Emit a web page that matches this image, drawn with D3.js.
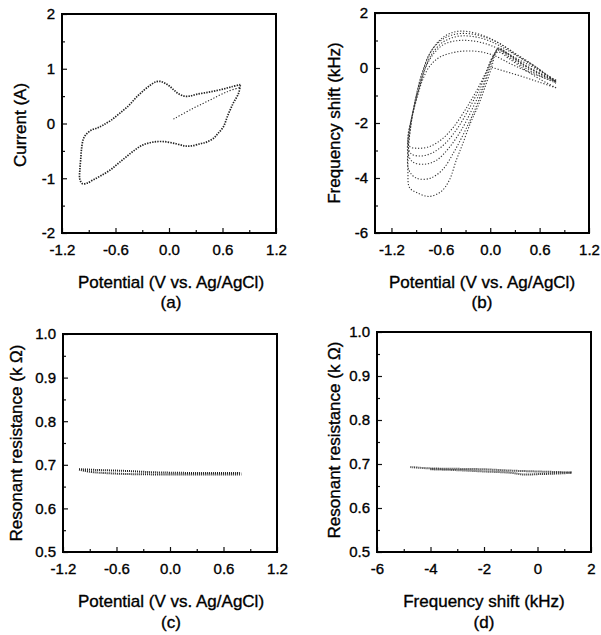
<!DOCTYPE html>
<html><head><meta charset="utf-8">
<script src="https://cdn.jsdelivr.net/npm/d3@7"></script>
<style>
body{margin:0;background:#fff}
svg{display:block}
text{font-family:"Liberation Sans",Arial,Helvetica,sans-serif;fill:#000;stroke:#000;stroke-width:0.35px}
</style>
</head><body>
<svg id="chart" width="601" height="635"></svg>
<script>
// ---------------- DATA ----------------
// (a) Current vs potential
const cvStart = [[0.05,0.08],[0.25,0.26],[0.45,0.42],[0.65,0.58],[0.80,0.66]];
const cvCycle = [[0.80,0.70],[0.78,0.55],[0.72,0.37],[0.66,0.15],[0.61,-0.06],[0.55,-0.18],[0.50,-0.27],[0.42,-0.34],[0.35,-0.37],[0.25,-0.41],[0.18,-0.41],[0.08,-0.37],[-0.06,-0.33],[-0.18,-0.34],[-0.29,-0.39],[-0.38,-0.48],[-0.48,-0.61],[-0.57,-0.73],[-0.66,-0.85],[-0.76,-0.95],[-0.85,-1.03],[-0.92,-1.09],[-0.97,-1.10],[-1.00,-1.02],[-1.00,-0.85],[-0.99,-0.65],[-0.98,-0.45],[-0.96,-0.28],[-0.93,-0.20],[-0.87,-0.12],[-0.80,-0.08],[-0.74,-0.03],[-0.65,0.06],[-0.55,0.19],[-0.45,0.33],[-0.36,0.49],[-0.28,0.61],[-0.21,0.70],[-0.15,0.76],[-0.10,0.77],[-0.05,0.74],[0.00,0.69],[0.05,0.62],[0.10,0.55],[0.17,0.50],[0.23,0.50],[0.30,0.53],[0.40,0.56],[0.50,0.59],[0.61,0.63],[0.70,0.67],[0.80,0.71]];

// (b) Frequency shift vs potential (5 cycles)
const fsStart = [[0.02,0.02],[0.20,-0.14],[0.40,-0.32],[0.60,-0.52],[0.80,-0.72]];
const fsCycle1 = [[0.80,-0.72],[0.60,-0.40],[0.40,-0.02],[0.22,0.36],[0.10,0.58],[0.03,0.40],[-0.06,-0.20],[-0.18,-0.90],[-0.32,-1.60],[-0.46,-2.20],[-0.60,-2.62],[-0.74,-2.86],[-0.88,-2.92],[-0.98,-2.85],[-1.00,-2.50],[-0.96,-1.90],[-0.90,-1.20],[-0.83,-0.50],[-0.74,0.05],[-0.62,0.38],[-0.45,0.56],[-0.28,0.62],[-0.10,0.58],[0.05,0.45],[0.25,0.15],[0.45,-0.12],[0.65,-0.35],[0.80,-0.48]];
const fsCycle2 = [[0.80,-0.48],[0.60,-0.20],[0.40,0.12],[0.22,0.48],[0.10,0.68],[0.04,0.45],[-0.04,-0.10],[-0.14,-0.80],[-0.27,-1.55],[-0.40,-2.20],[-0.55,-2.75],[-0.70,-3.08],[-0.84,-3.20],[-0.96,-3.12],[-1.00,-2.80],[-0.98,-2.20],[-0.93,-1.50],[-0.86,-0.70],[-0.78,0.05],[-0.68,0.55],[-0.55,0.88],[-0.38,1.00],[-0.20,0.98],[-0.02,0.85],[0.15,0.62],[0.35,0.30],[0.55,-0.02],[0.80,-0.45]];
const fsCycle3 = [[0.80,-0.45],[0.60,-0.18],[0.40,0.15],[0.22,0.52],[0.10,0.72],[0.05,0.50],[-0.02,0.00],[-0.10,-0.70],[-0.22,-1.50],[-0.35,-2.25],[-0.50,-2.90],[-0.65,-3.35],[-0.80,-3.50],[-0.94,-3.42],[-1.00,-3.10],[-0.99,-2.40],[-0.94,-1.60],[-0.87,-0.80],[-0.79,0.00],[-0.70,0.55],[-0.57,0.95],[-0.40,1.15],[-0.22,1.15],[-0.04,1.02],[0.12,0.80],[0.32,0.45],[0.55,0.05],[0.80,-0.50]];
const fsCycle4 = [[0.80,-0.50],[0.60,-0.22],[0.40,0.12],[0.22,0.50],[0.10,0.72],[0.06,0.55],[0.00,0.05],[-0.07,-0.60],[-0.17,-1.40],[-0.30,-2.25],[-0.44,-3.05],[-0.58,-3.70],[-0.74,-4.02],[-0.90,-4.00],[-0.99,-3.70],[-1.00,-3.00],[-0.96,-2.00],[-0.90,-1.00],[-0.82,-0.10],[-0.73,0.55],[-0.60,1.00],[-0.44,1.22],[-0.26,1.25],[-0.06,1.12],[0.12,0.88],[0.32,0.50],[0.55,0.05],[0.80,-0.55]];
const fsCycle5 = [[0.80,-0.55],[0.60,-0.28],[0.40,0.05],[0.22,0.42],[0.10,0.65],[0.06,0.50],[0.02,0.06],[-0.06,-0.67],[-0.15,-1.40],[-0.24,-2.00],[-0.34,-2.80],[-0.41,-3.33],[-0.50,-4.10],[-0.60,-4.50],[-0.74,-4.67],[-0.88,-4.55],[-0.98,-4.35],[-1.00,-3.80],[-0.99,-2.80],[-0.95,-1.80],[-0.89,-0.90],[-0.81,-0.05],[-0.72,0.60],[-0.60,1.05],[-0.45,1.30],[-0.28,1.33],[-0.06,1.15],[0.12,0.88],[0.33,0.45],[0.55,0.02],[0.80,-0.50]];

// (c) Resonant resistance vs potential
const rpUpper = [[-1.02,0.690],[-0.80,0.688],[-0.50,0.686],[-0.20,0.683],[0.00,0.682],[0.40,0.681],[0.80,0.681]];
const rpLower = [[-1.02,0.689],[-0.90,0.684],[-0.80,0.682],[-0.50,0.679],[-0.20,0.678],[0.00,0.678],[0.40,0.678],[0.80,0.678]];

// (d) Resonant resistance vs frequency shift
const rfUpper = [[-4.75,0.693],[-4.00,0.690],[-3.00,0.689],[-2.00,0.688],[-1.00,0.685],[0.00,0.683],[0.60,0.682],[1.30,0.681]];
const rfLower = [[-4.00,0.688],[-3.00,0.686],[-2.00,0.683],[-1.00,0.680],[-0.50,0.676],[0.00,0.677],[0.60,0.678],[1.30,0.680]];

// tick values / labels
const potTicks = [-1.2,-0.6,0.0,0.6,1.2];
const potMinor = [-0.9,-0.3,0.3,0.9];
const curTicks = [-2,-1,0,1,2];
const curMinor = [-1.5,-0.5,0.5,1.5];
const fsTicks = [-6,-4,-2,0,2];
const fsMinor = [-5,-3,-1,1];
const resTicks = [0.5,0.6,0.7,0.8,0.9,1.0];
const resMinor = [0.55,0.65,0.75,0.85,0.95];

// ---------------- DRAW ----------------
const svg = d3.select("#chart");
const TICK_FS = 15, TITLE_FS = 17;

function panel(cfg){
  const x = d3.scaleLinear().domain(cfg.xDomain).range([cfg.left, cfg.right]);
  const y = d3.scaleLinear().domain(cfg.yDomain).range([cfg.bottom, cfg.top]);
  const g = svg.append("g");

  const line = d3.line().x(d=>x(d[0])).y(d=>y(d[1])).curve(d3.curveCatmullRom.alpha(0.5));
  cfg.series.forEach(s=>{
    g.append("path").attr("d", line(s.data)).attr("fill","none")
      .attr("stroke", s.color||"#222").attr("stroke-width", s.width||1.3)
      .attr("stroke-dasharray", s.dash||"1.2,1.8");
  });

  const xa = g.append("g").attr("transform",`translate(0,${cfg.bottom})`)
    .call(d3.axisBottom(x).tickValues(cfg.xTicks).tickSize(-5).tickPadding(11).tickFormat(cfg.xFmt));
  const xm = g.append("g").attr("transform",`translate(0,${cfg.bottom})`)
    .call(d3.axisBottom(x).tickValues(cfg.xMinor).tickSize(-3).tickFormat(""));
  const ya = g.append("g").attr("transform",`translate(${cfg.left},0)`)
    .call(d3.axisLeft(y).tickValues(cfg.yTicks).tickSize(-5).tickPadding(7).tickFormat(cfg.yFmt));
  const ym = g.append("g").attr("transform",`translate(${cfg.left},0)`)
    .call(d3.axisLeft(y).tickValues(cfg.yMinor).tickSize(-3).tickFormat(""));
  [xa,xm,ya,ym].forEach(a=>{
    a.select(".domain").remove();
    a.selectAll("line").attr("stroke","#111").attr("stroke-width",1.2);
    a.selectAll("text").attr("font-size",TICK_FS).attr("fill","#000")
      .style("font-family",'"Liberation Sans",Arial,sans-serif');
  });

  g.append("rect").attr("x",cfg.left).attr("y",cfg.top)
    .attr("width",cfg.right-cfg.left).attr("height",cfg.bottom-cfg.top)
    .attr("fill","none").attr("stroke","#000").attr("stroke-width",2);

  g.append("text").attr("x",cfg.xTitleX).attr("y",cfg.xTitleY).attr("text-anchor","middle")
    .attr("font-size",TITLE_FS).text(cfg.xTitle);
  g.append("text").attr("x",cfg.xTitleX).attr("y",cfg.letterY).attr("text-anchor","middle")
    .attr("font-size",TITLE_FS).text(cfg.letter);
  g.append("text").attr("transform",`translate(${cfg.yTitleX},${cfg.yTitleY}) rotate(-90)`)
    .attr("text-anchor","middle").attr("font-size",TITLE_FS).text(cfg.yTitle);
}

const fmt1 = d=>d.toFixed(1);
const fmt0 = d=>String(d);

panel({
  left:62,right:276,top:14,bottom:233,
  xDomain:[-1.2,1.2], yDomain:[-2,2],
  xTicks:potTicks, xMinor:potMinor, yTicks:curTicks, yMinor:curMinor,
  xFmt:fmt1, yFmt:fmt0,
  xTitle:"Potential (V vs. Ag/AgCl)", letter:"(a)", xTitleX:171, xTitleY:288, letterY:308,
  yTitle:"Current (A)", yTitleX:26, yTitleY:125,
  series:[{data:cvStart, width:1.1},{data:cvCycle, width:1.7, dash:"1.4,1.2"}]
});

panel({
  left:375,right:589,top:13,bottom:233,
  xDomain:[-1.4,1.2], yDomain:[-6,2],
  xTicks:potTicks, xMinor:potMinor, yTicks:fsTicks, yMinor:fsMinor,
  xFmt:fmt1, yFmt:fmt0,
  xTitle:"Potential (V vs. Ag/AgCl)", letter:"(b)", xTitleX:482, xTitleY:288, letterY:308,
  yTitle:"Frequency shift (kHz)", yTitleX:340, yTitleY:123,
  series:[fsStart,fsCycle1,fsCycle2,fsCycle3,fsCycle4,fsCycle5].map(d=>({data:d, width:1.1, color:"#333"}))
});

panel({
  left:63,right:277,top:334,bottom:552,
  xDomain:[-1.2,1.2], yDomain:[0.5,1.0],
  xTicks:potTicks, xMinor:potMinor, yTicks:resTicks, yMinor:resMinor,
  xFmt:fmt1, yFmt:fmt1,
  xTitle:"Potential (V vs. Ag/AgCl)", letter:"(c)", xTitleX:171, xTitleY:607, letterY:628,
  yTitle:"Resonant resistance (k Ω)", yTitleX:22, yTitleY:443,
  series:[{data:rpUpper, width:2, dash:"1,1"},{data:rpLower, width:2, dash:"1,1"}]
});

panel({
  left:377,right:591,top:332,bottom:552,
  xDomain:[-6,2], yDomain:[0.5,1.0],
  xTicks:fsTicks, xMinor:fsMinor, yTicks:resTicks, yMinor:resMinor,
  xFmt:fmt0, yFmt:fmt1,
  xTitle:"Frequency shift (kHz)", letter:"(d)", xTitleX:484, xTitleY:607, letterY:628,
  yTitle:"Resonant resistance (k Ω)", yTitleX:340, yTitleY:440,
  series:[{data:rfUpper, width:2, dash:"1,1"},{data:rfLower, width:2, dash:"1,1"}]
});
</script>
</body></html>
